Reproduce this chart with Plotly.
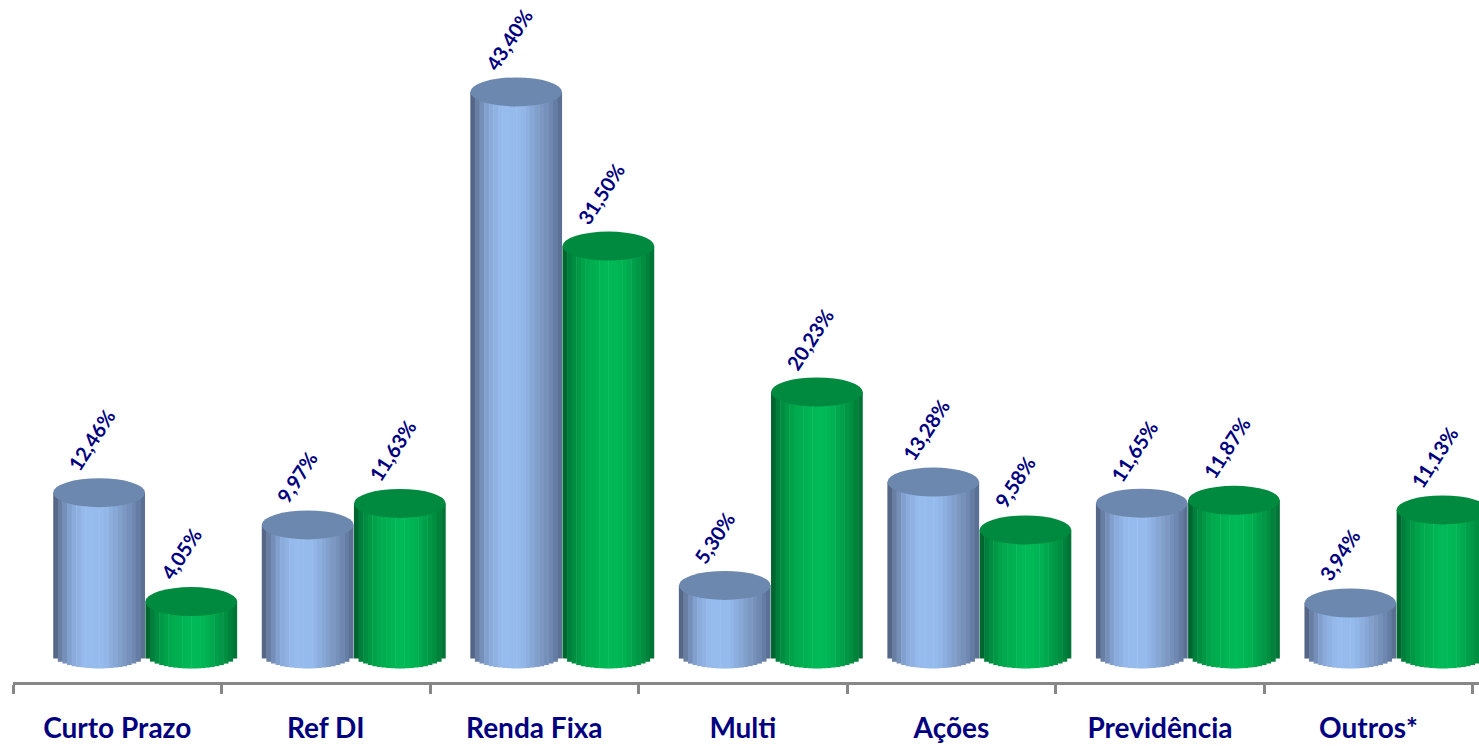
import numpy as np
import plotly.graph_objects as go

# ---------------- data ----------------
categories = ["Curto Prazo", "Ref DI", "Renda Fixa", "Multi", "Ações", "Previdência", "Outros*"]
series_blue = [12.46, 9.97, 43.40, 5.30, 13.28, 11.65, 3.94]
series_green = [4.05, 11.63, 31.50, 20.23, 9.58, 11.87, 11.13]

# ---------------- style ----------------
NAVY = "#000080"
AXIS_GRAY = "#878787"
CYL_W = 0.44          # cylinder width (category units)
ELL_H = 1.12          # half-height of ellipse caps (value units)
N_STRIPS = 20

blue_style = dict(
    center=-0.087,
    top="#6D88AE",
    stops=[(0.0, "#4B5A77"), (0.08, "#6A80A6"), (0.2, "#88A8D8"), (0.35, "#96BCEE"),
           (0.55, "#95BAEC"), (0.75, "#7F9CC8"), (0.9, "#6A84AC"), (1.0, "#55698C")],
)
green_style = dict(
    center=0.355,
    top="#008A3F",
    stops=[(0.0, "#00592A"), (0.08, "#00823D"), (0.25, "#00A84C"), (0.5, "#00BA57"),
           (0.65, "#00B554"), (0.85, "#009444"), (1.0, "#006F33")],
)


def hex2rgb(h):
    h = h.lstrip("#")
    return np.array([int(h[i:i + 2], 16) for i in (0, 2, 4)], dtype=float)


def interp_color(stops, t):
    for (t0, c0), (t1, c1) in zip(stops[:-1], stops[1:]):
        if t0 <= t <= t1:
            f = (t - t0) / (t1 - t0) if t1 > t0 else 0
            c = hex2rgb(c0) * (1 - f) + hex2rgb(c1) * f
            return "rgb(%d,%d,%d)" % tuple(np.round(c))
    return stops[-1][1]


fig = go.Figure()
shapes = []
annotations = []

for values, st in [(series_blue, blue_style), (series_green, green_style)]:
    left = st["center"] - CYL_W / 2
    sw = CYL_W / N_STRIPS
    for k in range(N_STRIPS):
        t = (k + 0.5) / N_STRIPS
        u = 2 * t - 1
        depth = ELL_H * np.sqrt(max(0.0, 1 - u * u))
        bases = [-depth for _ in values]
        lengths = [v + depth for v in values]
        fig.add_trace(go.Bar(
            x=categories, y=lengths, base=bases,
            offset=left + k * sw,
            width=sw * (1.1 if k < N_STRIPS - 1 else 1.0),
            marker=dict(color=interp_color(st["stops"], t), line=dict(width=0)),
            hoverinfo="skip", showlegend=False,
        ))
    for i, v in enumerate(values):
        shapes.append(dict(
            type="circle", xref="x", yref="y",
            x0=i + left, x1=i + left + CYL_W, y0=v - ELL_H, y1=v + ELL_H,
            fillcolor=st["top"], line=dict(width=0), layer="above",
        ))
        annotations.append(dict(
            x=i + left, y=v, xref="x", yref="y",
            text=("%.2f" % v).replace(".", ",") + "%",
            showarrow=False, textangle=-57,
            xanchor="left", yanchor="bottom", xshift=7, yshift=15,
            font=dict(family="Lato", size=20, color=NAVY, weight="bold"),
        ))

fig.update_layout(
    width=1479, height=746,
    margin=dict(l=13, r=0, t=0, b=64),
    barmode="overlay",
    plot_bgcolor="white", paper_bgcolor="white",
    shapes=shapes, annotations=annotations,
    showlegend=False,
)
fig.update_xaxes(
    type="category", range=[-0.5, 6.53], automargin=False,
    showline=True, linecolor=AXIS_GRAY, linewidth=3,
    ticks="outside", tickson="boundaries", ticklen=9, tickwidth=3, tickcolor=AXIS_GRAY,
    showgrid=False, zeroline=False,
    tickfont=dict(family="Lato", size=28, color=NAVY, weight="bold"),
    ticklabelstandoff=19,
)
fig.update_yaxes(range=[-2.16, 50.5], visible=False, showgrid=False, zeroline=False,
                 automargin=False)

fig.write_html("out.html")
